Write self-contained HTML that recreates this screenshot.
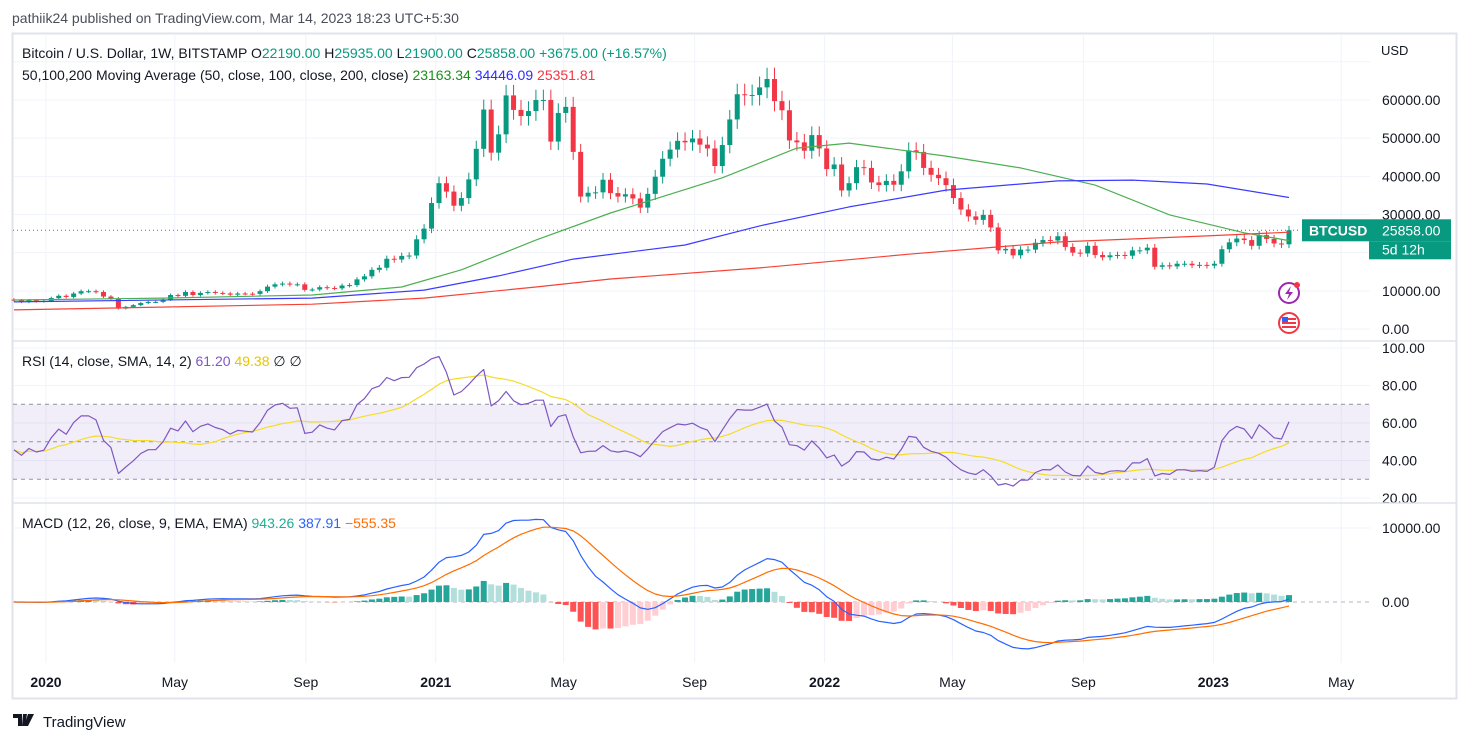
<!DOCTYPE html>
<html><head><meta charset="utf-8">
<style>
html,body{margin:0;padding:0;background:#fff;}
svg{display:block;font-family:"Liberation Sans",sans-serif;}
</style></head>
<body>
<svg id="chart" width="1469" height="743" viewBox="0 0 1469 743">
<text x="12" y="23" font-size="14" fill="#4a4e59">pathiik24 published on TradingView.com, Mar 14, 2023 18:23 UTC+5:30</text>
<rect x="12.5" y="33.5" width="1444" height="665" fill="none" stroke="#e0e3eb" stroke-width="2"/>
<g id="grid"></g>
<g id="rsi-bg"></g>
<g id="main"></g>
<g id="rsi"></g>
<g id="macd"></g>
<g id="axes"></g>
<g id="labels"></g>
<line x1="13" y1="341" x2="1456" y2="341" stroke="#e0e3eb" stroke-width="1.5"/>
<line x1="13" y1="503" x2="1456" y2="503" stroke="#e0e3eb" stroke-width="1.5"/>
<text x="22" y="58" font-size="14" fill="#131722">Bitcoin / U.S. Dollar, 1W, BITSTAMP <tspan fill="#131722">O</tspan><tspan fill="#089981">22190.00</tspan> <tspan>H</tspan><tspan fill="#089981">25935.00</tspan> <tspan>L</tspan><tspan fill="#089981">21900.00</tspan> <tspan>C</tspan><tspan fill="#089981">25858.00</tspan> <tspan fill="#089981">+3675.00 (+16.57%)</tspan></text>
<text x="22" y="80" font-size="14" fill="#131722">50,100,200 Moving Average (50, close, 100, close, 200, close) <tspan fill="#1b8e1b">23163.34</tspan> <tspan fill="#2d2dff">34446.09</tspan> <tspan fill="#f23645">25351.81</tspan></text>
<text x="22" y="366" font-size="14" fill="#131722">RSI (14, close, SMA, 14, 2) <tspan fill="#7e57c2">61.20</tspan> <tspan fill="#e6c700">49.38</tspan> <tspan>∅</tspan> <tspan>∅</tspan></text>
<text x="22" y="528" font-size="14" fill="#131722">MACD (12, 26, close, 9, EMA, EMA) <tspan fill="#22ab94">943.26</tspan> <tspan fill="#2962ff">387.91</tspan> <tspan fill="#ff6d00">−555.35</tspan></text>
<text x="1381" y="55" font-size="13" fill="#131722">USD</text>
<g>
<path d="M13 714h9v12h-4v-8h-5z M23 714h4l-2 12h-3z M28 714h6l-6 12h-4z" fill="#131722"/>
<text x="43" y="727" font-size="15" fill="#131722">TradingView</text>
</g>
<g><circle cx="1289" cy="293" r="10" fill="#fff" stroke="#9c27b0" stroke-width="2"/><path d="M1291 286l-6 8h4l-2 6 6-8h-4z" fill="#9c27b0"/><circle cx="1297" cy="285" r="3" fill="#f23645"/></g>
<g><circle cx="1289" cy="323" r="10" fill="#fff" stroke="#f23645" stroke-width="2"/><rect x="1282" y="318" width="14" height="2" fill="#f23645"/><rect x="1282" y="322" width="14" height="2" fill="#f23645"/><rect x="1282" y="326" width="14" height="2" fill="#f23645"/><rect x="1282" y="317" width="6" height="5" fill="#2962ff"/></g>
</svg>
<script>
const closes = [7500,7100,7500,7250,7350,
8100,8700,8400,9300,9900,9900,9700,8500,8000,5350,5800,6250,6800,7100,7100,7700,8900,8700,9700,8900,9450,9700,9450,9300,9000,9300,9250,9200,9900,11100,11700,11900,11650,11700,10250,10350,10950,10750,10650,11400,11500,13000,13800,15500,16050,18400,18200,19150,19250,23500,26300,33000,
38200,36000,32300,34300,39200,47200,57500,46200,51000,61200,57400,55800,57100,60000,60000,49100,56600,58200,46400,34700,35700,35800,39100,35600,34700,35300,34200,31800,35400,39900,44600,47000,49300,48900,49900,48300,47300,42700,48200,54900,61500,61300,61300,63300,65500,59700,57300,49400,48900,46700,50800,47300,
41900,43100,36300,38200,42400,42200,38400,37700,38800,37800,41300,46800,46400,42200,40400,39500,37700,34300,31300,29500,28600,29900,26600,20600,21000,19300,20800,20800,22600,23300,23200,24300,21500,20000,19800,21800,19400,18800,19300,19400,19200,20600,20600,21300,16300,16700,16400,17100,17100,16700,16800,16600,
17100,20900,22700,23700,23300,21800,24600,23600,22400,22190,25858];
const firstOpen = 7700;
const rsiSeedGain = 210;
const rsiSeedLoss = 250;
const ma50Weeks = [0,20,40,52,60,70,80,95,105,112,125,135,145,155,165,171];
const ma50Vals = [7600,8100,8900,11000,15500,23300,30400,39600,47400,48700,45300,42200,37700,29900,25200,23163];
const ma100Weeks = [0,40,55,65,75,90,100,112,125,140,150,160,171];
const ma100Vals = [7100,8100,10200,13900,18300,22000,27000,32000,36400,38800,39000,38000,34446];
const ma200Weeks = [0,40,55,70,80,100,120,140,160,171];
const ma200Vals = [5000,6500,8100,11000,13100,16000,19600,22800,24400,25352];
const priceTicks = [0,10000,20000,30000,40000,50000,60000,70000];
const priceTickLabels = ["0.00","10000.00","","30000.00","40000.00","50000.00","60000.00",""];
const rsiTicks = [20,40,60,80,100];
const macdTicks = [0,10000];
const timeLabels = ["2020","May","Sep","2021","May","Sep","2022","May","Sep","2023","May"];
const timeDates = ["2020-01-01","2020-05-01","2020-09-01","2021-01-01","2021-05-01","2021-09-01","2022-01-01","2022-05-01","2022-09-01","2023-01-01","2023-05-01"];

const NS="http://www.w3.org/2000/svg";
const X0=14, STEP=7.456, START=Date.UTC(2019,11,2);
const xOf=i=>X0+i*STEP;
const xDate=s=>xOf((Date.parse(s+"T00:00:00Z")-START)/604800000);
const yP=v=>329-v*0.003817;
const yR=v=>348+(100-v)*1.875;
const yM=v=>602-v*0.0074;
function mk(tag,attrs,parent){const e=document.createElementNS(NS,tag);for(const k in attrs)e.setAttribute(k,attrs[k]);parent.appendChild(e);return e;}
const G=id=>document.getElementById(id);

const grid=G('grid');
timeDates.forEach((d,k)=>{const x=xDate(d);
 const l=mk('line',{x1:x,x2:x,y1:34,y2:663,stroke:'#f0f3fa'},grid);
 
 
 const t=mk('text',{x:x,y:687,'font-size':14,'text-anchor':'middle',fill:'#131722','font-weight':timeLabels[k].length===4?'bold':'normal'},G('axes'));
 t.textContent=timeLabels[k];
 
 
});
priceTicks.forEach((v,k)=>{const y=yP(v);
 const l=mk('line',{x1:13,x2:1370,y1:y,y2:y,stroke:'#f0f3fa'},grid);
 
 
 if(!priceTickLabels[k])return;
 const t=mk('text',{x:1382,y:y+5,'font-size':14,fill:'#131722'},G('axes'));
 t.textContent=priceTickLabels[k];
 
 
});
rsiTicks.forEach(v=>{const y=yR(v);
 const l=mk('line',{x1:13,x2:1370,y1:y,y2:y,stroke:'#f0f3fa'},grid);
 
 
 const t=mk('text',{x:1382,y:y+5,'font-size':14,fill:'#131722'},G('axes'));
 t.textContent=v.toFixed(2);
 
 
});
macdTicks.forEach(v=>{const y=yM(v);
 const l=mk('line',{x1:13,x2:1370,y1:y,y2:y,stroke:v===0?'#b2b5be':'#f0f3fa','stroke-dasharray':v===0?'4 4':''},grid);
 
 
 const t=mk('text',{x:1382,y:y+5,'font-size':14,fill:'#131722'},G('axes'));
 t.textContent=v.toFixed(2);
 
 
});

const rb=G('rsi-bg');
const band=mk('rect',{x:13,y:yR(70),width:1357,height:yR(30)-yR(70),fill:'rgba(126,87,194,0.1)'},rb);


[70,50,30].forEach(v=>{const l=mk('line',{x1:13,x2:1370,y1:yR(v),y2:yR(v),stroke:'#787b86','stroke-dasharray':'4 4','stroke-opacity':0.8},rb);
 
 });

const main=G('main');
closes.forEach((c,i)=>{const o=i?closes[i-1]:firstOpen;const up=c>=o;const col=up?'#089981':'#f23645';
 const hi=Math.max(o,c)*1.045, lo=Math.min(o,c)*0.955; const x=xOf(i);
 const g=mk('g',{},main);
 
 
 mk('line',{x1:x,x2:x,y1:yP(hi),y2:yP(lo),stroke:col},g);
 const y1=yP(Math.max(o,c)),y2=yP(Math.min(o,c));
 mk('rect',{x:x-2.5,y:y1,width:5,height:Math.max(1,y2-y1),fill:col},g);
});
function lineFromSamples(weeks,vals,color,name){
 const d=weeks.map((w,k)=>(k?'L':'M')+xOf(w).toFixed(1)+' '+yP(vals[k]).toFixed(1)).join(' ');
 const p=mk('path',{d:d,fill:'none',stroke:color,'stroke-width':1.2,'stroke-linejoin':'round'},main);
 
 
}
lineFromSamples(ma50Weeks,ma50Vals,'#4caf50','ma50-line');
lineFromSamples(ma100Weeks,ma100Vals,'#3b3bff','ma100-line');
lineFromSamples(ma200Weeks,ma200Vals,'#f44336','ma200-line');
const last=closes[closes.length-1];
const pl=mk('line',{x1:13,x2:1300,y1:yP(last),y2:yP(last),stroke:'#089981','stroke-dasharray':'1 3'},main);


const lb=mk('g',{},G('labels'));


const ly=yP(last);
mk('rect',{x:1302,y:ly-11,width:149,height:22,fill:'#089981'},lb);
mk('rect',{x:1369,y:ly+11,width:82,height:18,fill:'#089981'},lb);
const t1=mk('text',{x:1309,y:ly+5,'font-size':14,fill:'#fff','font-weight':'bold'},lb);t1.textContent='BTCUSD';
const t2=mk('text',{x:1382,y:ly+5,'font-size':14,fill:'#fff'},lb);t2.textContent=last.toFixed(2);
const t3=mk('text',{x:1382,y:ly+24,'font-size':14,fill:'#fff'},lb);t3.textContent='5d 12h';

// RSI (Wilder smoothing from a neutral seed)
let ag=rsiSeedGain,al=rsiSeedLoss;
const rsi=[];
for(let i=0;i<closes.length;i++){
 if(i>0){const d=closes[i]-closes[i-1];ag=(ag*13+Math.max(d,0))/14;al=(al*13+Math.max(-d,0))/14;}
 rsi.push(al===0?100:100-100/(1+ag/al));
}
const rsiSma=rsi.map((v,i)=>{const s=rsi.slice(Math.max(0,i-13),i+1);return s.reduce((a,b)=>a+b,0)/s.length;});
function drawSeries(arr,yf,color,parent,name){
 const d=arr.map((v,i)=>(i?'L':'M')+xOf(i).toFixed(1)+' '+yf(v).toFixed(1)).join(' ');
 const p=mk('path',{d:d,fill:'none',stroke:color,'stroke-width':1.2,'stroke-linejoin':'round'},parent);
 
 
}
drawSeries(rsiSma,yR,'#f5dc2a',G('rsi'),'rsi-sma-line');
drawSeries(rsi,yR,'#7e57c2',G('rsi'),'rsi-line');

function ema(a,n){const k=2/(n+1);const out=[];a.forEach((v,i)=>out.push(i?out[i-1]+k*(v-out[i-1]):v));return out;}
const e12=ema(closes,12),e26=ema(closes,26);
const macd=e12.map((v,i)=>v-e26[i]);
const sig=ema(macd,9);
const hist=macd.map((v,i)=>v-sig[i]);
const mg=G('macd');
hist.forEach((h,i)=>{const prev=i?hist[i-1]:0;
 const col=h>=0?(h>=prev?'#26a69a':'#b2dfdb'):(h<prev?'#ff5252':'#ffcdd2');
 const y0=yM(0),y1=yM(h);
 const r=mk('rect',{x:xOf(i)-3,y:Math.min(y0,y1),width:6,height:Math.abs(y1-y0),fill:col},mg);
 
 
});
drawSeries(macd,yM,'#2962ff',mg,'macd-line');
drawSeries(sig,yM,'#ff6d00',mg,'signal-line');
</script>
</body></html>
